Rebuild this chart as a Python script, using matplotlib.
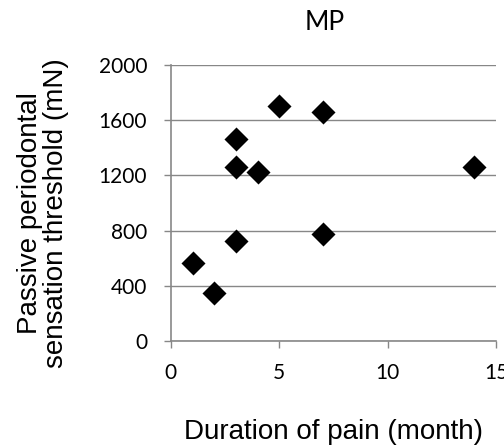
import matplotlib
matplotlib.use('Agg')
import matplotlib.pyplot as plt

# data
duration = [1, 2, 3, 3, 3, 4, 5, 7, 7, 14]
threshold = [563, 350, 1461, 1263, 722, 1225, 1703, 1657, 773, 1261]
x_ticks = [0, 5, 10, 15]
y_ticks = [0, 400, 800, 1200, 1600, 2000]

grey = '#878787'
fig = plt.figure(figsize=(5.04, 4.45), dpi=100)
ax = fig.add_axes([0.339, 0.234, 0.645, 0.620])

ax.scatter(duration, threshold, marker='D', s=150, color='black', zorder=3,
           linewidths=0)
ax.set_xlim(0, 15)
ax.set_ylim(0, 2000)
ax.set_xticks(x_ticks)
ax.set_yticks(y_ticks)
ax.yaxis.grid(True, color=grey, linewidth=1)
ax.set_axisbelow(True)

for side in ['top', 'right']:
    ax.spines[side].set_visible(False)
for side in ['left', 'bottom']:
    ax.spines[side].set_color(grey)
    ax.spines[side].set_linewidth(1.2)
ax.tick_params(axis='both', direction='out', length=5, width=1, color=grey,
               labelsize=15)
ax.tick_params(axis='y', pad=12)
ax.tick_params(axis='x', pad=11)
for lab in ax.get_xticklabels() + ax.get_yticklabels():
    lab.set_family('Lato')

fig.text(325 / 504, 1 - 23 / 445, 'MP', family='Lato', fontsize=19,
         ha='center', va='center')
ax.set_xlabel('Duration of pain (month)', family='Liberation Sans',
              fontsize=20, va='center')
ax.xaxis.set_label_coords(0.5, -0.33)
ax.set_ylabel('Passive periodontal\nsensation threshold (mN)',
              family='Liberation Sans', fontsize=20, linespacing=1.0,
              va='center')
ax.yaxis.set_label_coords(-0.394, 0.464)

plt.savefig('out.png', dpi=100)
